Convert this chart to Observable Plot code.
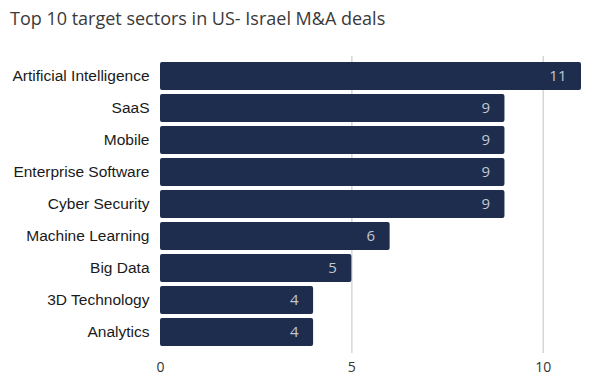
<!DOCTYPE html>
<html>
<head>
<meta charset="utf-8">
<script src="https://cdn.jsdelivr.net/npm/d3@7"></script>
<script src="https://cdn.jsdelivr.net/npm/@observablehq/plot@0.6"></script>
<style>
  body { margin: 0; background: #fff; }
  #title { height: 40px; box-sizing: border-box; padding: 6px 0 0 10px; font-family: "Open Sans", sans-serif; font-size: 18px; color: #3a3a3a; white-space: nowrap; overflow: hidden; }
  #chart svg { display: block; }
</style>
</head>
<body>
<div id="title">Top 10 target sectors in US- Israel M&amp;A deals</div>
<div id="chart"></div>
<script>
const sectors = ["Artificial Intelligence", "SaaS", "Mobile", "Enterprise Software", "Cyber Security", "Machine Learning", "Big Data", "3D Technology", "Analytics"];
const deals = [11, 9, 9, 9, 9, 6, 5, 4, 4];
const xTicks = [0, 5, 10];

const data = sectors.map((s, i) => ({sector: s, deals: deals[i]}));

const chart = Plot.plot({
  width: 590,
  height: 339,
  marginLeft: 160,
  marginRight: 9,
  marginTop: 16,
  marginBottom: 26,
  style: {fontFamily: "'Liberation Sans', Arial, sans-serif", fontSize: "15.5px", color: "#222", background: "#fff"},
  x: {domain: [0, 11], ticks: xTicks, tickSize: 0, tickPadding: 9, label: null, tickFormat: d => d},
  y: {domain: sectors, padding: 0.11, tickSize: 0, tickPadding: 11, label: null},
  marks: [
    Plot.ruleX([5, 10], {stroke: "#d6d6d6", strokeWidth: 1.5}),
    Plot.barX(data, {x: "deals", y: "sector", fill: "#1e2d4e", rx: 2}),
    Plot.text(data, {x: "deals", y: "sector", text: d => String(d.deals), textAnchor: "end", dx: -15, fill: "#c3c7d0", fontFamily: "'Open Sans', sans-serif", fontSize: 15})
  ]
});
chart.querySelectorAll("g[aria-label='x-axis tick label']").forEach(el => { el.setAttribute("font-family", "'Open Sans', sans-serif"); el.setAttribute("font-size", "14"); el.setAttribute("fill", "#333"); });
chart.querySelectorAll("g[aria-label='y-axis tick label']").forEach(el => { el.setAttribute("font-family", "'Liberation Sans', Arial, sans-serif"); el.setAttribute("font-size", "15.5"); el.setAttribute("fill", "#1a1a1a"); });
document.getElementById("chart").appendChild(chart);
</script>
</body>
</html>
